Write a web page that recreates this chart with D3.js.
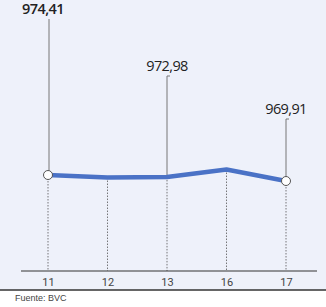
<!DOCTYPE html>
<html lang="es">
<head>
<meta charset="UTF-8">
<title>BVC</title>
<script src="https://cdn.jsdelivr.net/npm/d3@7"></script>
<style>
  body, html { margin: 0; background: #fff; }
  svg { display: block; }
</style>
</head>
<body>
<svg width="326" height="307"></svg>
<script>
const days = ["11", "12", "13", "16", "17"];
const values = [974.41, 972.5, 972.98, 978.5, 969.91];
const labels = ["974,41", null, "972,98", null, "969,91"];
const labelTops = [14, null, 71, null, 114];

(function(){
  const svg = d3.select('svg');
  svg.append('rect').attr('width', 326).attr('height', 290).attr('fill', '#eef1fa');

  const x = d3.scalePoint().domain(days).range([48, 286]);
  const y = d3.scaleLinear().domain([969.91, 974.41]).range([181, 175]);
  const axisY = 271;

  // dotted drop lines
  svg.append('g').selectAll('line').data(days).enter().append('line')
    .attr('x1', d => x(d)).attr('x2', d => x(d))
    .attr('y1', (d, i) => y(values[i])).attr('y2', axisY)
    .attr('stroke', '#555').attr('stroke-width', 0.8).attr('stroke-dasharray', '1.5,1.5');

  // leader lines to labels
  const lead = svg.append('g');
  days.forEach((d, i) => {
    if (!labels[i]) return;
    const top = labelTops[i] + 5;
    const px = x(d) + (i === 0 ? 1 : 0);
    lead.append('path')
      .attr('d', `M${px},${y(values[i])}V${top}` + (i === 0 ? '' : 'h3'))
      .attr('fill', 'none').attr('stroke', '#777').attr('stroke-width', 1);
    lead.append('text')
      .attr('x', x(d) + (i === 0 ? -5 : 0)).attr('y', labelTops[i])
      .attr('text-anchor', 'middle')
      .style('font-family', '"Open Sans", sans-serif')
      .style('font-size', '14.5px')
      .style('font-weight', i === 0 ? '600' : '400')
      .style('fill', '#222').style('letter-spacing', '-0.6px')
      .text(labels[i]);
  });

  // axis
  const axis = d3.axisBottom(x).tickSize(0).tickPadding(7);
  const ag = svg.append('g').attr('transform', `translate(0,${axisY})`).call(axis);
  ag.select('.domain').remove();
  ag.append('line').attr('x1', 21).attr('x2', 317).attr('stroke', '#333').attr('stroke-width', 1);
  ag.selectAll('text').style('font-family', '"Liberation Sans Narrow", "Roboto", sans-serif')
    .style('font-size', '11px').style('fill', '#444');

  // series line
  const line = d3.line().x((d, i) => x(days[i])).y(d => y(d));
  svg.append('path').datum(values).attr('d', line)
    .attr('fill', 'none').attr('stroke', '#4a72c6').attr('stroke-width', 4.5)
    .attr('stroke-linejoin', 'round');

  // end markers
  svg.append('g').selectAll('circle').data([0, values.length - 1]).enter().append('circle')
    .attr('cx', i => x(days[i])).attr('cy', i => y(values[i])).attr('r', 4.5)
    .attr('fill', '#fff').attr('stroke', '#555').attr('stroke-width', 1);

  // bottom rule and source
  svg.append('line').attr('x1', 0).attr('x2', 326).attr('y1', 290).attr('y2', 290)
    .attr('stroke', '#333').attr('stroke-width', 1.5);
  svg.append('text').attr('x', 15).attr('y', 301)
    .style('font-family', '"Liberation Sans Narrow", sans-serif').style('font-size', '9px')
    .style('fill', '#444').text('Fuente: BVC');
})();
</script>
</body>
</html>
